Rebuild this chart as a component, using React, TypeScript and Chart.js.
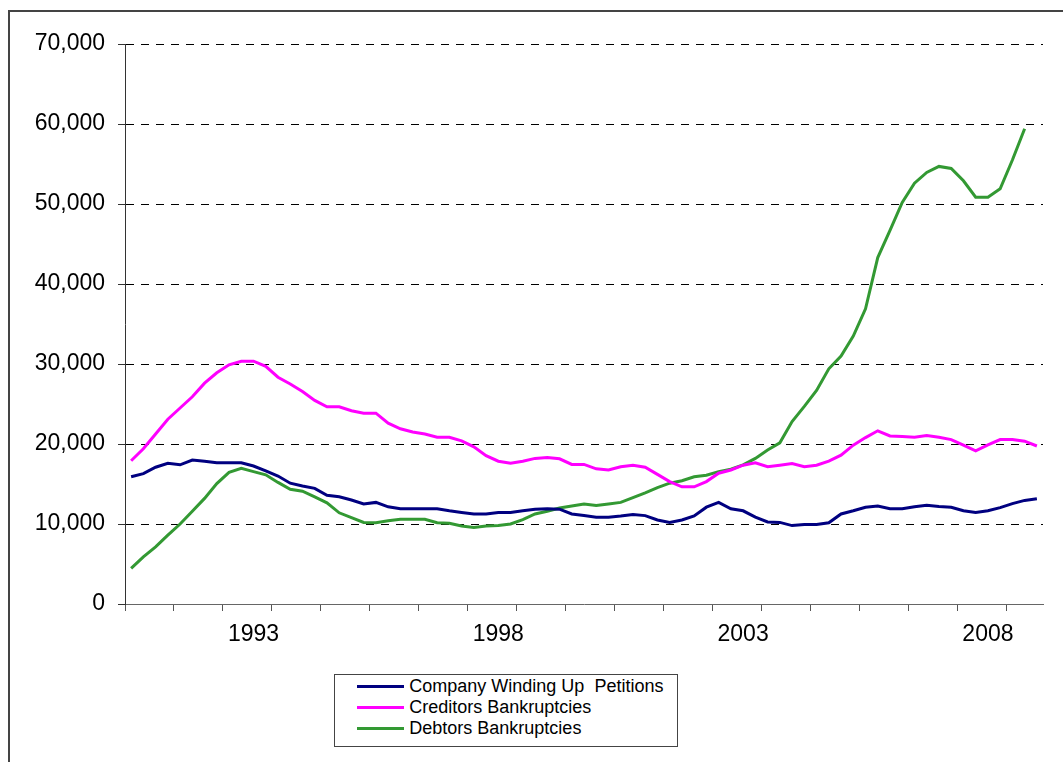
import React, { useEffect, useRef } from 'react';
import { Chart, registerables } from 'chart.js';

Chart.register(...registerables);

// Quarterly categories: 1990 Q3 .. 2009 Q1
const START_YEAR = 1990;
const START_QUARTER = 3;
const QUARTER_COUNT = 75;
const quarters: string[] = [];
for (let i = 0; i < QUARTER_COUNT; i++) {
  const q = START_QUARTER - 1 + i;
  quarters.push(`${START_YEAR + Math.floor(q / 4)} Q${(q % 4) + 1}`);
}

const yearTickLabels = ['1993', '1998', '2003', '2008'];
const yMin = 0;
const yMax = 70000;
const yStep = 10000;

const seriesNames = ['Company Winding Up  Petitions', 'Creditors Bankruptcies', 'Debtors Bankruptcies'];
const seriesColors = ['#000080', '#FF00FF', '#339933'];

const companyWindingUp = [
  15900, 16300, 17100, 17600, 17400, 18000, 17850, 17650, 17650, 17650,
  17250, 16650, 16000, 15100, 14750, 14450, 13600, 13400, 13000, 12500,
  12700, 12150, 11900, 11900, 11900, 11900, 11650, 11450, 11250, 11250,
  11450, 11450, 11650, 11850, 11900, 11850, 11250, 11050, 10850, 10850,
  11000, 11200, 11050, 10500, 10200, 10500, 11000, 12100, 12700, 11900,
  11650, 10850, 10250, 10200, 9800, 9950, 9950, 10150, 11250, 11650,
  12100, 12250, 11900, 11900, 12150, 12350, 12200, 12100, 11650, 11450,
  11650, 12050, 12550, 12950, 13150,
];

const creditorsBankruptcies = [
  17900, 19400, 21250, 23100, 24500, 25900, 27600, 28900, 29900, 30350,
  30350, 29700, 28350, 27500, 26550, 25450, 24650, 24650, 24150, 23850,
  23850, 22600, 21900, 21500, 21250, 20850, 20850, 20400, 19650, 18550,
  17850, 17600, 17850, 18200, 18300, 18150, 17450, 17450, 16900, 16750,
  17150, 17350, 17100, 16200, 15300, 14650, 14650, 15300, 16350, 16750,
  17350, 17650, 17150, 17350, 17550, 17150, 17350, 17850, 18600, 19850,
  20800, 21650, 21000, 20950, 20850, 21050, 20850, 20550, 19850, 19150,
  19900, 20550, 20550, 20350, 19750,
];

const debtorsBankruptcies: (number | null)[] = [
  4450, 5900, 7150, 8600, 10000, 11600, 13200, 15050, 16450, 16950,
  16550, 16150, 15200, 14350, 14100, 13400, 12650, 11400, 10800, 10200,
  10150, 10400, 10600, 10600, 10600, 10150, 10100, 9750, 9550, 9750,
  9800, 10000, 10550, 11250, 11600, 12000, 12250, 12500, 12300, 12500,
  12700, 13300, 13900, 14550, 15100, 15400, 15900, 16100, 16550, 16850,
  17400, 18200, 19250, 20150, 22800, 24700, 26700, 29400, 31000, 33500,
  36900, 43300, 46700, 50200, 52600, 53950, 54700, 54450, 52900, 50850,
  50850, 51900, 55500, 59400, null,
];

const seriesData = [companyWindingUp, creditorsBankruptcies, debtorsBankruptcies];

const FONT = '"Liberation Sans", Arial, sans-serif';

export default function App() {
  const canvasRef = useRef<HTMLCanvasElement | null>(null);

  useEffect(() => {
    const canvas = canvasRef.current;
    if (!canvas) return;
    const chart = new Chart(canvas, {
      type: 'line',
      data: {
        labels: quarters,
        datasets: seriesNames.map((name, k) => ({
          label: name,
          data: seriesData[k],
          borderColor: seriesColors[k],
          backgroundColor: seriesColors[k],
          borderWidth: 3,
          pointRadius: 0,
          tension: 0,
          fill: false,
        })),
      },
      options: {
        responsive: false,
        animation: false,
        devicePixelRatio: 1,
        layout: { padding: { left: 0, right: 20, top: 36, bottom: 0 } },
        plugins: {
          legend: { display: false },
          tooltip: { enabled: false },
          title: { display: false },
        },
        scales: {
          x: {
            type: 'category',
            offset: true,
            grid: {
              offset: true,
              drawOnChartArea: false,
              drawTicks: true,
              tickLength: 7,
              tickWidth: 1,
              tickColor: (ctx: any) =>
                ctx.index !== undefined && ctx.index % 4 === 0 ? '#555555' : 'rgba(0,0,0,0)',
            },
            border: { display: true, color: '#666666', width: 1 },
            ticks: {
              autoSkip: false,
              maxRotation: 0,
              minRotation: 0,
              padding: 10,
              color: '#000000',
              font: { family: FONT, size: 23 },
              callback: (_v: any, index: number) => {
                const lab = quarters[index];
                if (!lab) return '';
                const [yr, q] = lab.split(' ');
                return q === 'Q1' && yearTickLabels.includes(yr) ? yr : '';
              },
            },
            afterFit: (scale: any) => {
              scale.height = 148;
            },
          },
          y: {
            min: yMin,
            max: yMax,
            grid: {
              color: '#000000',
              lineWidth: 1,
              drawTicks: true,
              tickLength: 7,
              tickColor: '#333333',
            },
            border: { display: true, color: '#333333', width: 1, dash: [8, 7] },
            ticks: {
              stepSize: yStep,
              padding: 13,
              color: '#000000',
              font: { family: FONT, size: 23 },
              callback: (v: any) => Number(v).toLocaleString('en-US'),
            },
            afterFit: (scale: any) => {
              scale.width = 117;
            },
          },
        },
      },
    });
    return () => chart.destroy();
  }, []);

  return (
    <div style={{ position: 'relative', width: 1055, height: 744, fontFamily: FONT }}>
      <div
        style={{
          position: 'fixed',
          left: 8,
          top: 10,
          width: 1055,
          height: 752,
          boxSizing: 'border-box',
          borderTop: '2px solid #444',
          borderLeft: '2px solid #444',
        }}
      />
      <canvas
        ref={canvasRef}
        width={1055}
        height={744}
        style={{ position: 'absolute', left: 0, top: 0, width: 1055, height: 744 }}
      />
      <div
        style={{
          position: 'absolute',
          left: 326,
          top: 666,
          width: 344,
          height: 73,
          border: '1px solid #444',
          boxSizing: 'border-box',
          background: '#fff',
        }}
      >
        {seriesNames.map((name, k) => (
          <div
            key={name}
            style={{
              position: 'absolute',
              left: 0,
              top: 1.3 + k * 20.8,
              height: 20.8,
              width: '100%',
            }}
          >
            <div
              style={{
                position: 'absolute',
                left: 21.7,
                top: 9,
                width: 47,
                height: 3,
                background: seriesColors[k],
              }}
            />
            <div
              style={{
                position: 'absolute',
                left: 74.3,
                top: 0,
                height: 20.8,
                lineHeight: '20.8px',
                fontSize: 18,
                color: '#000',
                whiteSpace: 'pre',
              }}
            >
              {name}
            </div>
          </div>
        ))}
      </div>
    </div>
  );
}
